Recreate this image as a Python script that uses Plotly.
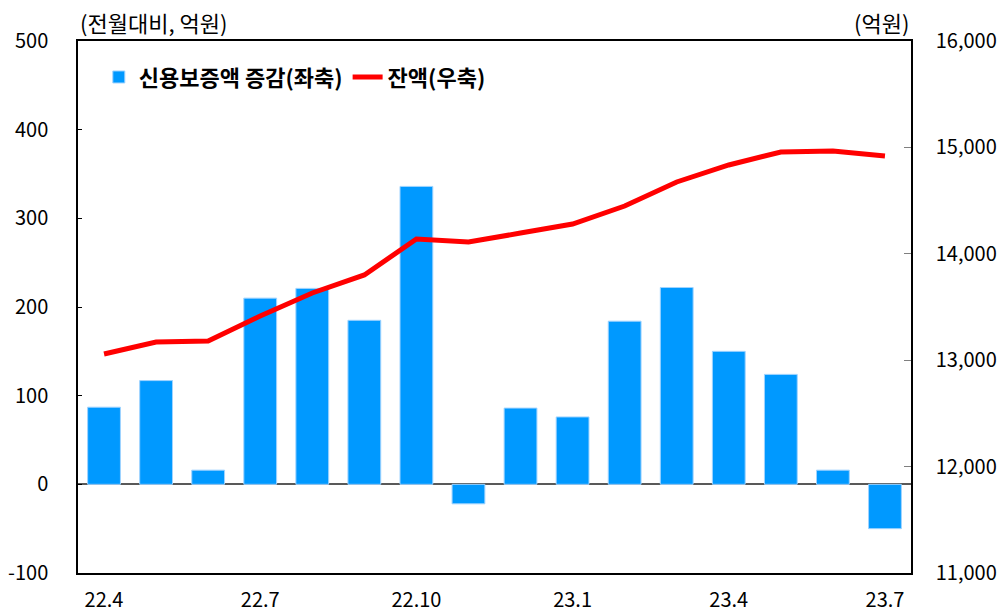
import plotly.graph_objects as go

months = ["22.4", "22.5", "22.6", "22.7", "22.8", "22.9", "22.10", "22.11",
          "22.12", "23.1", "23.2", "23.3", "23.4", "23.5", "23.6", "23.7"]
change = [87, 117, 16, 210, 221, 185, 336, -22, 86, 76, 184, 222, 150, 124, 16, -50]
balance = [13058, 13171, 13180, 13415, 13632, 13801, 14139, 14111,
           14195, 14280, 14449, 14675, 14835, 14957, 14966, 14919]
tick_labels = months[::3]
left_ticks = [-100, 0, 100, 200, 300, 400, 500]
left_tick_text = [str(v) for v in left_ticks]

KR = "Noto Sans CJK KR"
NUM = "Noto Sans CJK KR"

fig = go.Figure()
fig.add_trace(go.Bar(
    x=months, y=change, name="신용보증액 증감(좌축)",
    marker=dict(color="#0099FF", line=dict(color="#9fd3ff", width=1)),
    yaxis="y",
))
fig.add_trace(go.Scatter(
    x=months, y=balance, name="잔액(우축)", mode="lines",
    line=dict(color="#FF0000", width=5),
    yaxis="y2",
))

fig.update_layout(
    width=1002, height=613,
    margin=dict(l=78, r=91, t=41, b=40, autoexpand=False),
    paper_bgcolor="white", plot_bgcolor="white",
    font=dict(family=KR, size=20, color="#000"),
    bargap=0.37,
    showlegend=True,
    legend=dict(
        orientation="h", x=0.025, y=0.932, xanchor="left", yanchor="middle",
        font=dict(family=KR, size=22, color="#000", weight="bold"),
        bgcolor="rgba(0,0,0,0)", itemwidth=30, tracegroupgap=0,
    ),
    xaxis=dict(
        type="category", range=[-0.5, 15.5], automargin=False,
        tickmode="array", tickvals=tick_labels, ticktext=tick_labels,
        ticks="", showgrid=False, showline=True, linecolor="#000", linewidth=1.5,
        mirror=True, ticklabelstandoff=8,
        tickfont=dict(family=NUM, size=20),
    ),
    yaxis=dict(
        range=[-100, 500], tickmode="array", tickvals=left_ticks, ticktext=left_tick_text,
        showgrid=False, automargin=False,
        showline=True, linecolor="#000", linewidth=1.5,
        ticks="inside", ticklen=4, tickcolor="#000",
        zeroline=True, zerolinecolor="#595959", zerolinewidth=1.5,
        ticklabelstandoff=24, tickfont=dict(family=NUM, size=20),
    ),
    yaxis2=dict(
        range=[11000, 16000], dtick=1000, tick0=11000, overlaying="y", side="right",
        showgrid=False, showline=True, linecolor="#000", linewidth=1.5, automargin=False,
        ticks="inside", ticklen=7, tickcolor="#7f7f7f",
        tickformat=",", zeroline=False,
        ticklabelstandoff=19, tickfont=dict(family=NUM, size=20),
    ),
    annotations=[
        dict(text="(전월대비, 억원)", xref="paper", yref="paper", x=0.0, y=1.0,
             xanchor="left", yanchor="bottom", yshift=1, showarrow=False,
             font=dict(family=KR, size=22)),
        dict(text="(억원)", xref="paper", yref="paper", x=1.0, y=1.0,
             xanchor="right", yanchor="bottom", yshift=1, showarrow=False,
             font=dict(family=KR, size=22)),
    ],
)

fig.write_html("out.html")
